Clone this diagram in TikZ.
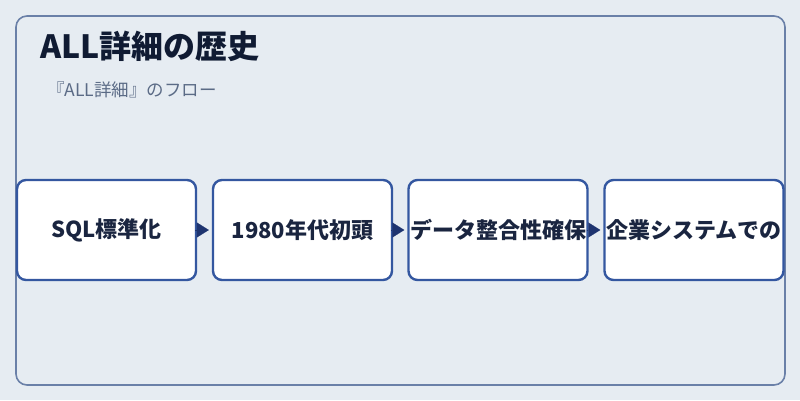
\documentclass[tikz,border=0pt]{standalone}
\usepackage{fontspec}
\setmainfont{Noto Sans CJK JP}
\usetikzlibrary{arrows.meta}
\definecolor{bgc}{HTML}{E6ECF2}
\definecolor{framec}{HTML}{6A80A8}
\definecolor{boxc}{HTML}{3457A0}
\definecolor{arrc}{HTML}{1E3470}
\definecolor{titlec}{HTML}{101B33}
\definecolor{subc}{HTML}{5B6B86}
\definecolor{textc}{HTML}{1A2540}
\tikzset{
  stepbox/.style={draw=boxc, line width=2.4pt, fill=white, rounded corners=9pt,
    minimum width=179pt, minimum height=100pt, inner sep=0pt,
    font=\bfseries\fontsize{22}{26}\selectfont, text=textc},
  flowarrow/.style={draw=arrc, line width=0.1pt, -{Triangle[length=12pt,width=15pt]},
    fill=arrc, shorten >=3pt, shorten <=2pt},
}
\begin{document}
\begin{tikzpicture}[x=1pt,y=-1pt]
\useasboundingbox[fill=bgc] (0,0) rectangle (800,400);
\draw[framec, line width=1.6pt, rounded corners=11pt] (16,16) rectangle (785,385);
\node[anchor=base west, font=\bfseries\fontsize{32}{38}\selectfont, text=titlec, inner sep=0pt] (title) at (40,58) {ALL詳細の歴史};
\node[anchor=base west, font=\fontsize{17.5}{21}\selectfont, text=subc, inner sep=0pt] (sub) at (47,96) {『ALL詳細』のフロー};
\node[stepbox] (b1) at (106.5,230) {SQL標準化};
\node[stepbox] (b2) at (302.5,230) {1980年代初頭};
\node[stepbox] (b3) at (498,230) {データ整合性確保};
\node[stepbox] (b4) at (694,230) {企業システムでの};
\draw[flowarrow] (b1.east) -- (b2.west);
\draw[flowarrow] (b2.east) -- (b3.west);
\draw[flowarrow] (b3.east) -- (b4.west);
\end{tikzpicture}
\end{document}
